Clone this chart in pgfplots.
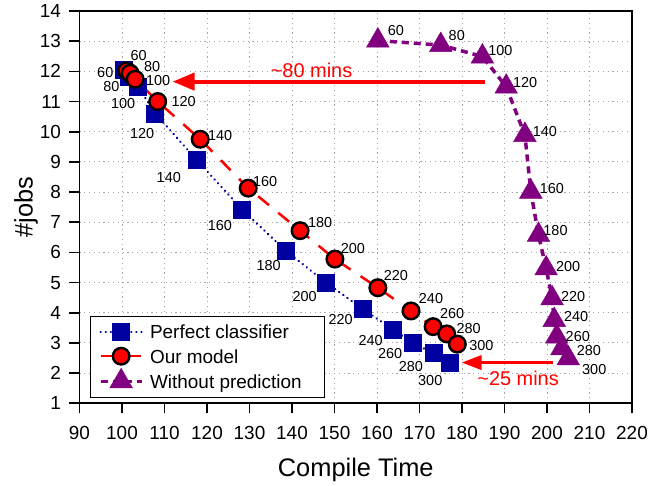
\documentclass[border=0pt]{standalone}
\usepackage{fontspec}
\setmainfont{Liberation Sans}
\usepackage{pgfplots}
\usepackage{pgfplotstable}
\pgfplotsset{compat=1.18}
\usetikzlibrary{arrows.meta}

\definecolor{sqblue}{RGB}{0,0,160}
\definecolor{tripurple}{RGB}{128,0,128}
\definecolor{gridgray}{RGB}{165,165,165}

% x y label, then label offset (bp) from the point
\pgfplotstableread{
x     y     lab dx  dy
100.3 12.04 60  -18 -2
101.5 11.82 80  -17 -10
103.8 11.49 100 -15 -17
107.8 10.61 120 -13 -20
117.6 9.06  140 -28 -17
128.2 7.43  160 -22 -16
138.5 6.06  180 -17 -15
147.9 5.01  200 -21 -14
156.6 4.13  220 -22 -11
163.7 3.45  240 -22 -11
168.5 2.99  260 -23 -10
173.4 2.66  280 -23 -13
177.0 2.33  300 -19 -17
}\perfect

\pgfplotstableread{
x     y     lab dx dy
101.1 12.02 60  12 15
101.9 11.94 80  22 7
103.1 11.74 100 23 -1
108.4 11.00 120 26 0
118.4 9.75  140 20 4
129.7 8.13  160 17 7
141.9 6.72  180 20 8
150.1 5.78  200 18 11
160.2 4.83  220 18 12
168.0 4.06  240 20 12
173.2 3.54  260 19 13
176.4 3.30  280 22 5
178.9 2.96  300 24 -1
}\ourmodel

\pgfplotstableread{
x     y     lab dx dy
160.2 13.02 60  18 10
175.0 12.87 80  16 10
184.8 12.49 100 18 6
190.4 11.49 120 19 4
194.8 9.89  140 20 3
196.2 8.01  160 21 3
198.0 6.58  180 17 4
199.8 5.47  200 22 2
201.2 4.48  220 21 2
201.7 3.76  240 22 3
202.3 3.21  260 21 0
203.5 2.82  280 27 -2
205.0 2.49  300 26 -11
}\noprediction

\pgfplotsset{
  ptlabels/.style={
    nodes near coords, point meta=explicit symbolic,
    visualization depends on={\thisrow{dx}\as\ldx},
    visualization depends on={\thisrow{dy}\as\ldy},
    every node near coord/.append style={anchor=center, xshift=\ldx bp, yshift=\ldy bp,
      text=black, inner sep=0pt, font=\fontsize{14.5}{16}\selectfont}
  }
}

\begin{document}
\begin{tikzpicture}
\begin{axis}[
  scale only axis, width=552.5bp, height=392.3bp,
  xmin=90, xmax=220, ymin=1, ymax=14,
  xtick distance=10, ytick distance=1,
  axis line style={line width=1.6bp},
  tick pos=left, tick align=outside, major tick length=10bp,
  tick style={line width=1.6bp, black},
  ticklabel style={font=\fontsize{19}{21}\selectfont},
  xticklabel style={yshift=-9bp},
  yticklabel style={xshift=-5bp},
  /pgf/number format/assume math mode=true,
  grid=major,
  major grid style={gridgray, line width=0.9bp, dash pattern=on 1.2bp off 3.6bp},
  xlabel={Compile Time}, ylabel={\#jobs},
  label style={font=\fontsize{25.5}{28}\selectfont},
  xlabel style={at={(axis description cs:0.5,0)}, anchor=base, yshift=-72.7bp},
  ylabel style={at={(axis description cs:0,0.5)}, anchor=center, yshift=53.5bp},
  legend cell align=left,
  legend style={at={(axis description cs:0.019,0.014)}, anchor=south west,
    font=\fontsize{19}{22}\selectfont, draw=black, line width=0.8bp,
    row sep=0bp, inner xsep=8.5bp, inner ysep=4bp,
    nodes={inner ysep=0bp, inner xsep=3bp, text height=18.9bp, text depth=5.3bp},
    /tikz/every odd column/.append style={column sep=3.7bp}},
  legend image code/.code={\draw[mark repeat=2, mark phase=2] plot coordinates {(0bp,0bp) (20.5bp,0bp) (41bp,0bp)};},
]
\addplot[sqblue, line width=2.5bp, line cap=round, dash pattern=on 0.1bp off 5bp,
  mark=square*, mark size=8.5bp, mark options={solid, fill=sqblue, line width=0.5bp},
  ptlabels] table[x=x, y=y, meta=lab]{\perfect};
\addlegendentry{Perfect classifier}
\addplot[red, line width=2.5bp, dash pattern=on 14bp off 12bp,
  mark=*, mark size=8.3bp, mark options={solid, fill=red, draw=black, line width=2.4bp},
  ptlabels] table[x=x, y=y, meta=lab]{\ourmodel};
\addlegendentry{Our model}
\addplot[tripurple, line width=3.5bp, dash pattern=on 7bp off 5bp,
  mark=triangle*, mark size=13bp, mark options={solid, fill=tripurple, line width=0.5bp},
  ptlabels] table[x=x, y=y, meta=lab]{\noprediction};
\addlegendentry{Without prediction\rule{11bp}{0pt}}

\draw[red, line width=4bp, -{Triangle[length=22bp, width=17bp]}]
  (axis cs:185.4,11.66) -- (axis cs:111.9,11.66);
\node[red, font=\fontsize{20}{24}\selectfont] at (axis cs:144.6,12.02) {\textasciitilde80 mins};
\draw[red, line width=3.5bp, -{Triangle[length=20bp, width=14bp]}]
  (axis cs:201.4,2.35) -- (axis cs:179.9,2.35);
\node[red, font=\fontsize{20}{24}\selectfont] at (axis cs:193.2,1.83) {\textasciitilde25 mins};

\coordinate (O) at (rel axis cs:0,0);
\coordinate (T) at (rel axis cs:1,1);
\end{axis}
\pgfresetboundingbox
\path[use as bounding box] ([shift={(-79.5bp,-82.7bp)}]O) rectangle ([shift={(19bp,11bp)}]T);
\end{tikzpicture}
\end{document}
